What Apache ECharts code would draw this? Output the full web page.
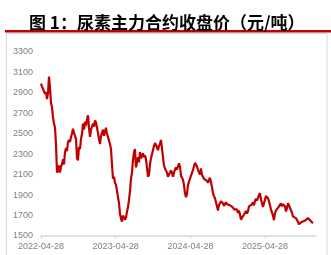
<!DOCTYPE html>
<html>
<head>
<meta charset="utf-8">
<script src="https://cdn.jsdelivr.net/npm/echarts@6/dist/echarts.min.js"></script>
<style>
html,body{margin:0;padding:0;background:#fff;}
#chart{width:331px;height:255px;}
</style>
</head>
<body>
<div id="chart"></div>
<script>
// Title
const titleText = '图 1：尿素主力合约收盘价（元/吨）';
// Sampling: one closing-price reading every ~4.89 calendar days starting 2022-04-28
const sampleStepDays = 4.89;
// Urea main contract closing price (yuan/ton)
const closePrices = [
2990,2960,2940,2955,2890,2910,2840,2900,3060,2950,
2800,2760,2660,2600,2560,2400,2120,2140,2190,2120,
2180,2200,2250,2200,2320,2360,2330,2420,2440,2420,
2470,2500,2550,2510,2500,2450,2260,2240,2370,2350,
2450,2500,2600,2540,2620,2580,2640,2680,2560,2470,
2540,2570,2600,2570,2630,2610,2560,2570,2450,2400,
2480,2470,2540,2480,2520,2560,2500,2470,2430,2400,
2350,2200,2060,2080,2020,2000,1990,1880,1820,1720,
1670,1640,1700,1680,1660,1680,1740,1780,1850,1940,
2060,2120,2240,2320,2350,2170,2220,2270,2220,2320,
2260,2280,2310,2270,2290,2250,2170,2080,2100,2200,
2260,2250,2340,2380,2410,2390,2380,2340,2380,2400,
2440,2360,2270,2190,2160,2175,2120,2080,2090,2070,
2140,2120,2080,2120,2150,2170,2150,2180,2210,2180,
2090,2100,2050,2000,1920,1880,1910,2000,1990,2060,
2090,2090,2145,2180,2215,2205,2180,2145,2140,2100,
2160,2100,2115,2060,2070,2065,2040,2020,2050,2070,
2025,1980,1920,1890,1870,1830,1790,1750,1800,1820,
1840,1840,1820,1795,1805,1830,1810,1800,1820,1800,
1785,1800,1780,1760,1760,1745,1760,1725,1750,1710,
1660,1670,1650,1710,1710,1745,1720,1740,1790,1775,
1785,1810,1830,1800,1840,1865,1845,1860,1900,1920,
1860,1820,1785,1790,1800,1890,1880,1870,1840,1800,
1760,1760,1700,1655,1720,1750,1745,1775,1790,1785,
1820,1790,1810,1800,1790,1740,1770,1820,1800,1790,
1790,1730,1690,1700,1685,1675,1660,1640,1615,1620,
1620,1640,1625,1640,1650,1655,1645,1675,1660,1690,
1645,1650,1625
];
// X tick labels and their day offsets from 2022-04-28
const xTickLabels = ['2022-04-28','2023-04-28','2024-04-28','2025-04-28'];
const xTickDays = [0,365,731,1096];
const yTicks = [1500,1700,1900,2100,2300,2500,2700,2900,3100,3300];

const seriesData = closePrices.map((v,i)=>[i*sampleStepDays, v]);

const chart = echarts.init(document.getElementById('chart'), null, {renderer:'canvas'});
chart.setOption({
  animation:false,
  backgroundColor:'#fff',
  title:{
    text:titleText,
    left:24, top:9,
    textStyle:{fontSize:17,fontWeight:'bold',color:'#000',fontFamily:'Noto Sans CJK SC'}
  },
  graphic:[
    {type:'rect',shape:{x:5,y:30,width:326,height:2.5},style:{fill:'#c00000'},silent:true},
    {type:'rect',shape:{x:6.5,y:33.5,width:320.5,height:240},style:{fill:'none',stroke:'#d9d9d9',lineWidth:1},silent:true}
  ],
  grid:{left:41,right:15,top:52,bottom:19,containLabel:false},
  xAxis:{
    type:'value',
    min:0, max:1345,
    splitLine:{show:false},
    axisLine:{show:true,lineStyle:{color:'#d9d9d9',width:1.5}},
    axisTick:{show:true,length:3,lineStyle:{color:'#d9d9d9'},customValues:xTickDays},
    axisLabel:{
      customValues:xTickDays,
      color:'#7f7f7f',fontSize:9,fontFamily:'Liberation Sans',margin:6,
      formatter:(v)=>{const k=xTickDays.indexOf(Math.round(v));return k>=0?xTickLabels[k]:'';}
    }
  },
  yAxis:{
    type:'value',
    min:yTicks[0], max:yTicks[yTicks.length-1], interval:200,
    splitLine:{show:false},
    axisLine:{show:false},
    axisTick:{show:false},
    axisLabel:{color:'#7f7f7f',fontSize:9,fontFamily:'Liberation Sans',margin:8,formatter:(v)=>String(v)}
  },
  series:[{
    type:'line',
    data:seriesData,
    showSymbol:false,
    symbol:'none',
    lineStyle:{color:'#c00000',width:2.2},
    z:3
  }]
});
</script>
</body>
</html>
